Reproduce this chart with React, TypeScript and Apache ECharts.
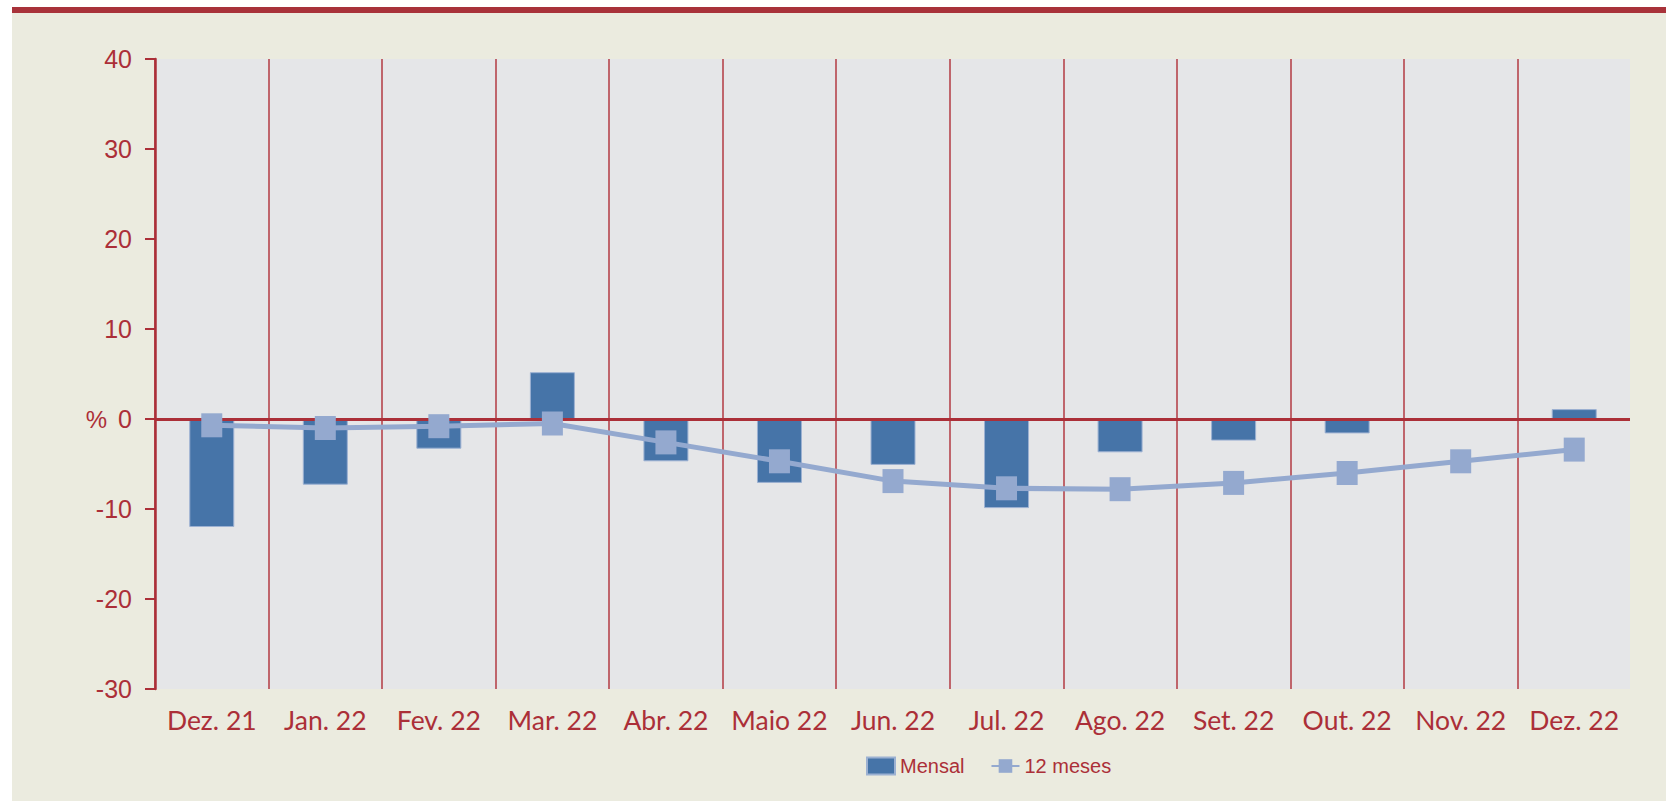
import React, { useEffect, useRef } from "react";
import * as echarts from "echarts";

const categories = ["Dez. 21", "Jan. 22", "Fev. 22", "Mar. 22", "Abr. 22", "Maio 22", "Jun. 22", "Jul. 22", "Ago. 22", "Set. 22", "Out. 22", "Nov. 22", "Dez. 22"];
const mensal = [-12.0, -7.3, -3.3, 5.2, -4.7, -7.1, -5.1, -9.9, -3.7, -2.4, -1.6, -0.1, 1.1];
const dozeMeses = [-0.7, -1.0, -0.8, -0.5, -2.6, -4.7, -6.9, -7.7, -7.8, -7.1, -6.0, -4.7, -3.4];
const seriesNames = ["Mensal", "12 meses"];

const RED = "#ab2f38";
const BEIGE = "#ebebdf";
const PLOT = "#e5e6e8";
const BAR = "#4674a8";
const LINE = "#94a9cf";

export default function App() {
  const ref = useRef<HTMLDivElement>(null);
  useEffect(() => {
    if (!ref.current) return;
    const chart = echarts.init(ref.current, undefined, { renderer: "svg" });
    chart.setOption({
      animation: false,
      backgroundColor: "#ffffff",
      graphic: [
        { type: "rect", z: -10, shape: { x: 12, y: 13, width: 1654, height: 788 }, style: { fill: BEIGE } },
        { type: "rect", z: -10, shape: { x: 12, y: 7, width: 1654, height: 6 }, style: { fill: "#a8323a" } },
        { type: "rect", z: 100, shape: { x: 1630, y: 55, width: 6, height: 640 }, style: { fill: BEIGE } },
        {
          type: "text", z: 100, x: 107, y: 419,
          style: { text: "%", fill: RED, font: '24px "Liberation Sans"', textAlign: "right", textVerticalAlign: "middle" },
        },
      ],
      grid: { left: 155, right: 35, top: 59, bottom: 112, show: true, backgroundColor: PLOT, borderWidth: 0 },
      legend: {
        data: [{ name: seriesNames[0], icon: "rect" }, { name: seriesNames[1] }],
        left: 861, top: 751, itemWidth: 28, itemHeight: 17, itemGap: 26,
        textStyle: { color: RED, fontSize: 20, fontFamily: "Liberation Sans" },
      },
      xAxis: {
        type: "category",
        data: categories,
        axisLine: { show: false },
        axisTick: { show: false },
        axisLabel: { color: RED, fontFamily: "Lato", fontSize: 26.5, margin: 17, interval: 0 },
        splitLine: { show: true, interval: 0, lineStyle: { color: "#b23a43", width: 1.5 } },
      },
      yAxis: {
        type: "value",
        min: -30, max: 40, interval: 10,
        axisLine: { show: true, lineStyle: { color: RED, width: 2.5 } },
        axisTick: { show: true, length: 10, lineStyle: { color: RED, width: 2 } },
        axisLabel: { color: RED, fontFamily: "Liberation Sans", fontSize: 25, margin: 23 },
        splitLine: { show: false },
      },
      series: [
        {
          name: seriesNames[0],
          type: "bar",
          data: mensal,
          barWidth: 45,
          itemStyle: { color: BAR, borderColor: "#9cb1d2", borderWidth: 1 },
          markLine: {
            silent: true,
            symbol: ["none", "none"],
            label: { show: false },
            lineStyle: { color: RED, width: 3, type: "solid" },
            data: [{ yAxis: 0 }],
          },
        },
        {
          name: seriesNames[1],
          type: "line",
          data: dozeMeses,
          z: 5,
          symbol: "rect",
          symbolSize: [21, 24],
          lineStyle: { color: LINE, width: 5 },
          itemStyle: { color: LINE },
        },
      ],
    });
    return () => chart.dispose();
  }, []);
  return <div ref={ref} style={{ position: "absolute", left: 0, top: 0, width: 1666, height: 801 }} />;
}
